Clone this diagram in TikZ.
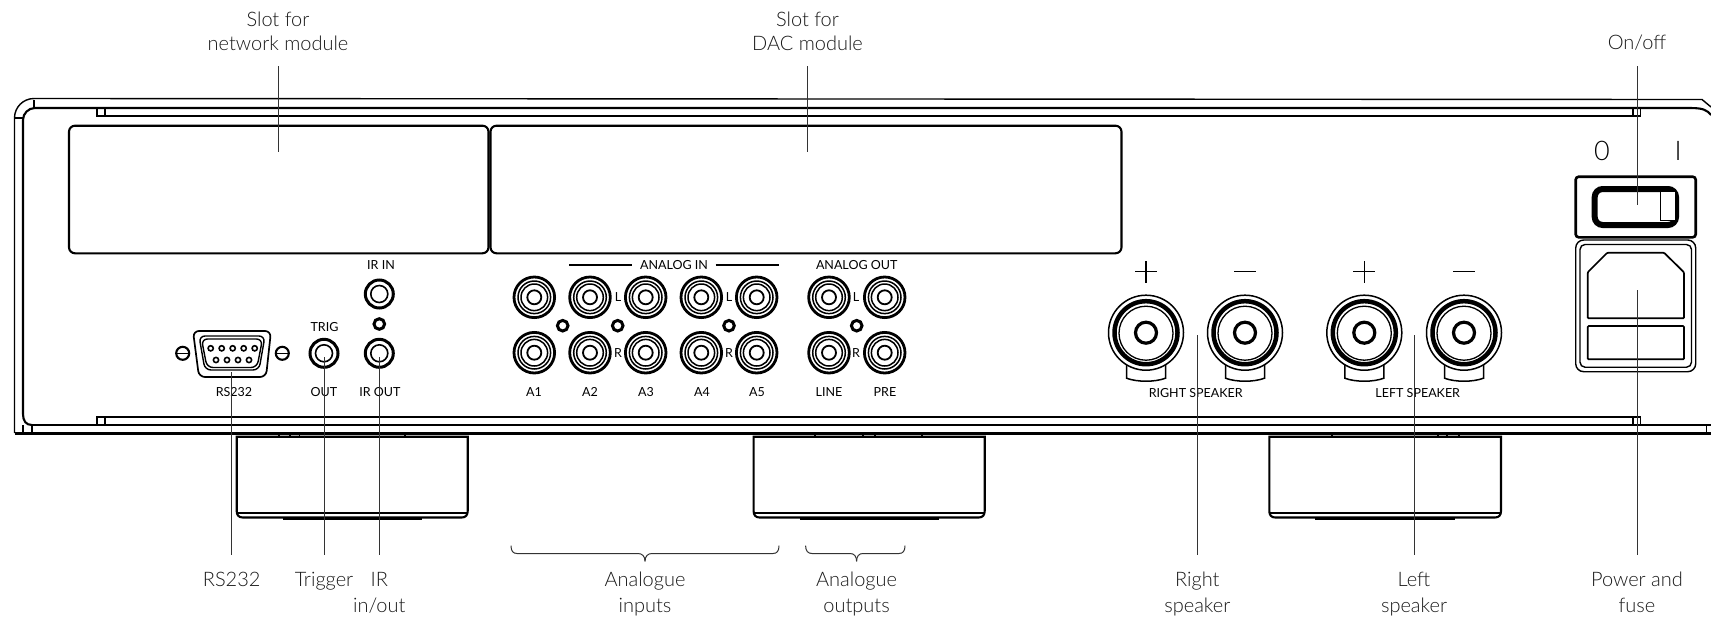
\documentclass[tikz,border=0pt]{standalone}
\usepackage{fontspec}
\setmainfont{Lato}[UprightFont=* Light]
\newfontfamily\panelfont{Lato}
\usetikzlibrary{calc}

\tikzset{
	chassis/.style={line width=1.4pt, color=black},
	thickline/.style={line width=2.1pt, color=black},
	leader/.style={line width=1pt, color=black!80},
	calloutup/.style={anchor=south, align=center, inner sep=0pt, inner ysep=15pt, font=\fontsize{20}{24}\selectfont, color=black!90},
	calloutdown/.style={anchor=north, align=center, inner sep=0pt, inner ysep=17pt, font=\fontsize{20}{26.5}\selectfont, color=black!90},
	paneltext/.style={inner sep=0pt, font=\panelfont\fontsize{12.5}{13}\selectfont}
}

% one phono socket, one small jack, one indicator
\def\rcasocket(#1,#2){
	\draw[line width=2.8pt] (#1, #2) circle (20.3);
	\draw[line width=1.5pt] (#1, #2) circle (16.3);
	\draw[line width=1.5pt] (#1, #2) circle (13.3);
	\draw[line width=1.8pt] (#1, #2) circle (7);
}
\def\jacksocket(#1,#2){
	\draw[line width=3pt] (#1, #2) circle (14);
	\draw[line width=1.6pt] (#1, #2) circle (8.5);
}
\def\ledhole(#1,#2){\draw[line width=3pt] (#1, #2) circle (5.3);}
% one speaker terminal
\def\postterminal(#1,#2){
	\draw[line width=1.5pt] ($(#1, #2)+(-19.5, 30)$) -- ($(#1, #2)+(-19.5, 45.5)$) .. controls ($(#1, #2)+(-9, 49.5)$) and ($(#1, #2)+(9, 49.5)$) .. ($(#1, #2)+(19.5, 45.5)$) -- ($(#1, #2)+(19.5, 30)$);
	\draw[line width=1.5pt, fill=white] (#1, #2) circle (37.5);
	\draw[line width=4.5pt] (#1, #2) circle (31.5);
	\draw[line width=1.3pt] ($(#1, #2)+(0, 0.5)$) circle (27);
	\draw[line width=3.2pt] (#1, #2) circle (10.5);
}
% one foot
\def\footblock(#1,#2){
	\draw[thickline] (#1, 436.7) -- (#1, 511) .. controls (#1, 515) and ($(#1, 517.5)+(2, 0)$) .. ($(#1, 517.5)+(6, 0)$) -- ($(#2, 517.5)+(-6, 0)$) .. controls ($(#2, 517.5)+(-2, 0)$) and (#2, 515) .. (#2, 511) -- (#2, 436.7) -- cycle;
	\draw[chassis] (#1, 513) -- (#2, 513);
	\draw[line width=2.6pt] ($(#1, 519)+(46, 0)$) -- ($(#2, 519)+(-46, 0)$);
}

\begin{document}
\begin{tikzpicture}[x=1pt, y=-1pt]
	\useasboundingbox (0, 0) rectangle (1711, 619);
	%%%%% CASE %%%%%

	\draw[chassis] (14.5, 433) -- (14.5, 118) arc (180:270:19.5) -- (1702, 99.5) -- (1711, 107);
	\draw[thickline] (23, 414) .. controls (23, 421) and (26, 425) .. (32, 425);
	\draw[thickline] (23, 414) -- (23, 120) arc (180:270:12) -- (1690, 108) .. controls (1703, 108) and (1707, 110) .. (1711, 115);
	\draw[chassis] (34, 99.5) -- (34, 108);
	\draw[chassis] (14.5, 118) -- (23, 118);

	\draw[chassis] (1640.5, 108) -- (1640.5, 116) -- (97, 116) -- (97, 108);
	\draw[chassis] (105, 108) -- (105, 116);
	\draw[chassis] (1633, 108) -- (1633, 116);

	\draw[chassis] (97, 425) -- (97, 417) -- (1640.5, 417) -- (1640.5, 425);
	\draw[chassis] (105, 417) -- (105, 425);
	\draw[chassis] (1633, 417) -- (1633, 425);
	\draw[chassis] (32, 425) -- (1711, 425);
	\draw[thickline] (14.5, 433.5) -- (1711, 433.5);
	\draw[chassis] (23, 425) -- (23, 433.5);
	\draw[chassis] (32, 425) -- (32, 433.5);
	\draw[chassis] (1706.5, 425) -- (1706.5, 433.5);

	%%%%% SLOTS %%%%%

	\draw[thickline, rounded corners=6] (69, 125.7) rectangle (488.5, 253.3);
	\draw[thickline, rounded corners=6] (490.5, 125.7) rectangle (1121.5, 253.3);

	%%%%% SOCKETS %%%%%

	\rcasocket(534.3, 297.3)
	\rcasocket(590, 297.3)
	\rcasocket(645.7, 297.3)
	\rcasocket(701.3, 297.3)
	\rcasocket(756.7, 297.3)
	\rcasocket(829, 297.3)
	\rcasocket(884.7, 297.3)
	\rcasocket(534.3, 352.7)
	\rcasocket(590, 352.7)
	\rcasocket(645.7, 352.7)
	\rcasocket(701.3, 352.7)
	\rcasocket(756.7, 352.7)
	\rcasocket(829, 352.7)
	\rcasocket(884.7, 352.7)

	\ledhole(562.7, 325.7)
	\ledhole(617.7, 325.7)
	\ledhole(729, 325.7)
	\ledhole(856.7, 325.7)
	\ledhole(379.3, 324)

	\jacksocket(379.3, 294)
	\jacksocket(379.3, 353.3)
	\jacksocket(324, 353.3)

	\draw[thickline] (569, 264.7) -- (631.7, 264.7);
	\draw[thickline] (715.7, 264.7) -- (778.7, 264.7);

	%%%%% RS232 %%%%%

	\draw[line width=1.7pt, rounded corners=6] (193, 331) -- (271, 331) -- (266, 377) -- (199, 377) -- cycle;
	\draw[line width=1.4pt, rounded corners=6] (199, 336) -- (265, 336) -- (259, 370) -- (205, 370) -- cycle;
	\draw[line width=1.4pt, rounded corners=6] (201.5, 339) -- (262.5, 339) -- (257, 367.5) -- (207, 367.5) -- cycle;

	\draw[line width=1.6pt] (210.7, 348.3) circle (2.6);
	\draw[line width=1.6pt] (221.7, 348.3) circle (2.6);
	\draw[line width=1.6pt] (232.7, 348.3) circle (2.6);
	\draw[line width=1.6pt] (243.7, 348.3) circle (2.6);
	\draw[line width=1.6pt] (254.7, 348.3) circle (2.6);
	\draw[line width=1.6pt] (216, 360) circle (2.6);
	\draw[line width=1.6pt] (227, 360) circle (2.6);
	\draw[line width=1.6pt] (238, 360) circle (2.6);
	\draw[line width=1.6pt] (249, 360) circle (2.6);

	\draw[thickline] (182.7, 353.3) circle (6.5);
	\draw[chassis] (176, 353.3) -- (189, 353.3);
	\draw[thickline] (282.3, 353.3) circle (6.5);
	\draw[chassis] (276, 353.3) -- (289, 353.3);

	%%%%% SPEAKERS %%%%%

	\postterminal(1146, 332.7)
	\postterminal(1245, 332.7)
	\postterminal(1364.3, 332.7)
	\postterminal(1464, 332.7)

	\draw[line width=1.4pt] (1135, 271.7) -- (1157, 271.7);
	\draw[line width=1.4pt] (1146, 261) -- (1146, 283);
	\draw[line width=1.4pt] (1234, 271.7) -- (1256, 271.7);
	\draw[line width=1.4pt] (1353.3, 271.7) -- (1375.3, 271.7);
	\draw[line width=1.4pt] (1364.3, 261) -- (1364.3, 283);
	\draw[line width=1.4pt] (1453, 271.7) -- (1475, 271.7);

	%%%%% SWITCH AND POWER %%%%%

	\draw[line width=2.6pt, rounded corners=3] (1575.7, 176.7) rectangle (1695.7, 237.3);
	\draw[line width=6pt, rounded corners=8] (1594.7, 189) rectangle (1676, 225);
	\draw[line width=1.4pt, fill=white] (1660.7, 191.7) rectangle (1675.7, 220.7);
	\draw[line width=1.4pt, rounded corners=8] (1575.7, 240) rectangle (1695.7, 371.7);
	\draw[line width=1.4pt, rounded corners=5] (1580, 244.5) rectangle (1691.5, 367.2);
	\draw[line width=1.7pt, rounded corners=1] (1587.7, 272.3) -- (1607.3, 252.7) -- (1664, 252.7) -- (1684, 272.3) -- (1684, 318.3) -- (1587.7, 318.3) -- cycle;
	\draw[line width=1.7pt, rounded corners=1] (1587.7, 326) rectangle (1684, 359.3);

	%%%%% FEET %%%%%

	\footblock(236.7, 467.7)
	\footblock(753.6, 984.7)
	\footblock(1269.3, 1501)

	\draw[chassis] (279, 433.5) -- (279, 436.7);
	\draw[chassis] (290, 433.5) -- (290, 436.7);
	\draw[chassis] (299.3, 433.5) -- (299.3, 436.7);
	\draw[chassis] (405, 433.5) -- (405, 436.7);
	\draw[chassis] (815, 433.5) -- (815, 436.7);
	\draw[chassis] (863, 433.5) -- (863, 436.7);
	\draw[chassis] (875, 433.5) -- (875, 436.7);
	\draw[chassis] (922, 433.5) -- (922, 436.7);
	\draw[chassis] (1332, 433.5) -- (1332, 436.7);
	\draw[chassis] (1438, 433.5) -- (1438, 436.7);
	\draw[chassis] (1447, 433.5) -- (1447, 436.7);
	\draw[chassis] (1459, 433.5) -- (1459, 436.7);

	%%%%% PANEL TEXT %%%%%

	\node[paneltext] (irin) at (381, 265) {IR IN};
	\node[paneltext] (trig) at (324.5, 326.7) {TRIG};
	\node[paneltext] (rsport) at (234, 392) {RS232};
	\node[paneltext] (trigout) at (324, 392) {OUT};
	\node[paneltext] (irout) at (380, 392) {IR OUT};
	\node[paneltext] (anain) at (674, 264.7) {ANALOG IN};
	\node[paneltext] (anaout) at (856.7, 264.7) {ANALOG OUT};
	\node[paneltext] (lone) at (618, 297) {L};
	\node[paneltext] (ltwo) at (729, 297) {L};
	\node[paneltext] (lthree) at (856, 297) {L};
	\node[paneltext] (rone) at (618, 352.7) {R};
	\node[paneltext] (rtwo) at (729, 352.7) {R};
	\node[paneltext] (rthree) at (856, 352.7) {R};
	\node[paneltext] (aone) at (534, 392) {A1};
	\node[paneltext] (atwo) at (590, 392) {A2};
	\node[paneltext] (athree) at (646, 392) {A3};
	\node[paneltext] (afour) at (702, 392) {A4};
	\node[paneltext] (afive) at (757, 392) {A5};
	\node[paneltext] (linetxt) at (829, 392) {LINE};
	\node[paneltext] (pretxt) at (885, 392) {PRE};
	\node[paneltext] (rightspk) at (1195.7, 393) {RIGHT SPEAKER};
	\node[paneltext] (leftspk) at (1417.7, 393) {LEFT SPEAKER};
	\node[inner sep=0pt, font=\fontsize{27}{27}\selectfont] (swoff) at (1602, 151) {0};
	\node[inner sep=0pt, font=\fontsize{27}{27}\selectfont] (swon) at (1678, 151) {I};

	%%%%% CALLOUTS %%%%%

	\node[calloutup] (netlbl) at (278, 66) {Slot for\\network module};
	\node[calloutup] (daclbl) at (807.5, 66) {Slot for\\DAC module};
	\node[calloutup] (onlbl) at (1637, 66) {On/off};
	\node[calloutdown] (rslbl) at (231.7, 554.7) {RS232};
	\node[calloutdown] (triglbl) at (324, 554.7) {Trigger};
	\node[calloutdown] (irlbl) at (379.3, 554.7) {IR\\in/out};
	\node[calloutdown, inner ysep=10pt] (inlbl) at (645, 561.4) {Analogue\\inputs};
	\node[calloutdown, inner ysep=10pt] (outlbl) at (856.6, 561.4) {Analogue\\outputs};
	\node[calloutdown] (rightlbl) at (1197.3, 554.7) {Right\\speaker};
	\node[calloutdown] (leftlbl) at (1414, 554.7) {Left\\speaker};
	\node[calloutdown] (powerlbl) at (1637, 554.7) {Power and\\fuse};

	\coordinate (netend) at (278, 151.7);
	\coordinate (dacend) at (807.5, 151.7);
	\coordinate (onend) at (1637, 205);
	\coordinate (rsend) at (231.7, 371.7);
	\coordinate (trigend) at (324, 356.7);
	\coordinate (irend) at (379.3, 356.7);
	\coordinate (rightend) at (1197.3, 335);
	\coordinate (leftend) at (1414, 335);
	\coordinate (powerend) at (1637, 290);

	\draw[leader] (netlbl.south) -- (netend);
	\draw[leader] (daclbl.south) -- (dacend);
	\draw[leader] (onlbl.south) -- (onend);
	\draw[leader] (rslbl.north) -- (rsend);
	\draw[leader] (triglbl.north) -- (trigend);
	\draw[leader] (irlbl.north) -- (irend);
	\draw[leader] (rightlbl.north) -- (rightend);
	\draw[leader] (leftlbl.north) -- (leftend);
	\draw[leader] (powerlbl.north) -- (powerend);

	\draw[leader] (inlbl.north) .. controls (645, 556) and (642, 553.5) .. (638, 553.5) -- (517, 553.5) .. controls (513, 553.5) and (511, 551) .. (511, 545.6);
	\draw[leader] (inlbl.north) .. controls (645, 556) and (648, 553.5) .. (652, 553.5) -- (773, 553.5) .. controls (777, 553.5) and (779, 551) .. (779, 545.6);
	\draw[leader] (outlbl.north) .. controls (856.6, 556) and (854, 553.5) .. (850, 553.5) -- (812, 553.5) .. controls (808, 553.5) and (805.6, 551) .. (805.6, 545.6);
	\draw[leader] (outlbl.north) .. controls (856.6, 556) and (859, 553.5) .. (863, 553.5) -- (899, 553.5) .. controls (903, 553.5) and (905, 551) .. (905, 545.6);

	%%%%% END %%%%%
\end{tikzpicture}
\end{document}
